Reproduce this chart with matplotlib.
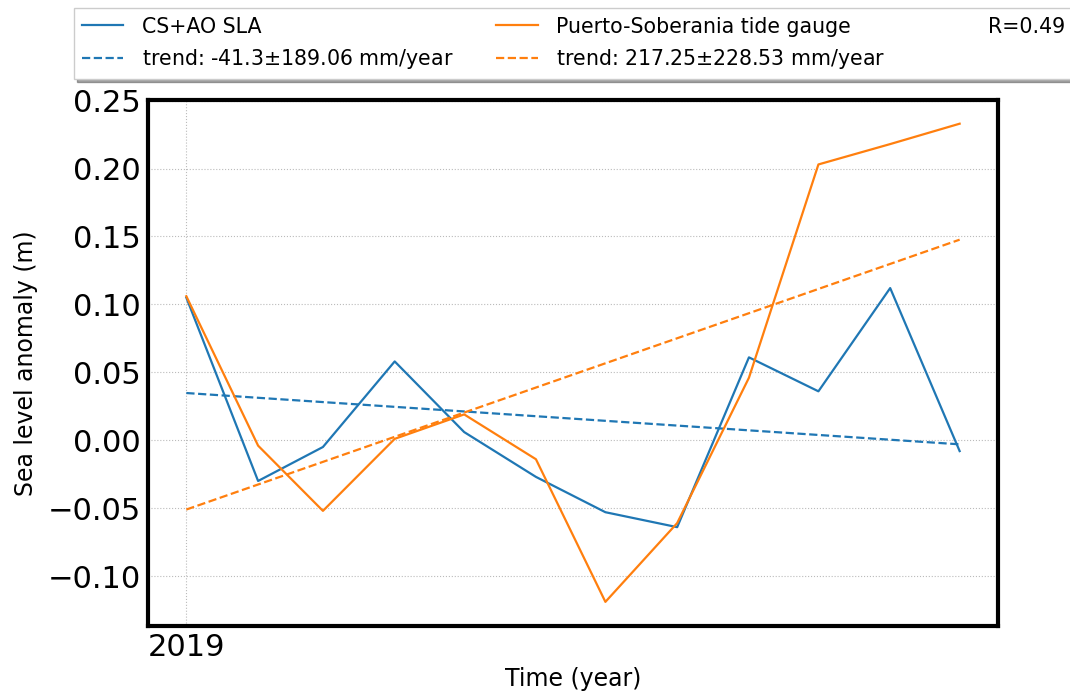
import matplotlib
matplotlib.use("Agg")
import matplotlib.pyplot as plt
import matplotlib.dates as md
import numpy as np
import pandas as pd

# Monthly sea level anomalies (m) for 2019.
MONTHS = pd.date_range("2019-01-01", periods=12, freq="MS")
SLA_CS_AO = [0.105, -0.030, -0.005, 0.058, 0.006, -0.027,
             -0.053, -0.064, 0.061, 0.036, 0.112, -0.008]
SLA_TIDE_GAUGE = [0.106, -0.004, -0.052, 0.001, 0.019, -0.014,
                  -0.119, -0.061, 0.046, 0.203, 0.218, 0.233]

# Trend rates (mm/year) and their uncertainties.
TREND_CS_AO = (-41.3, 189.06)
TREND_TIDE_GAUGE = (217.25, 228.53)
CORRELATION = 0.49

BLUE = "#1f77b4"
ORANGE = "#ff7f0e"


def trend_line(dates, values, rate_mm_year):
    # Straight line with the given slope through the mean of the series.
    t = np.array([(d - dates[0]).days for d in dates], dtype=float)
    slope = rate_mm_year / 1000.0 / 365.25
    intercept = np.mean(values) - slope * t.mean()
    return intercept + slope * t


def main():
    fig = plt.figure(figsize=(10.7, 6.93), dpi=100)
    ax = fig.add_axes([0.138, 0.097, 0.795, 0.759])

    ax.plot(MONTHS, SLA_CS_AO, color=BLUE, lw=1.6, label="CS+AO SLA")
    ax.plot(MONTHS, trend_line(MONTHS, SLA_CS_AO, TREND_CS_AO[0]), color=BLUE,
            lw=1.6, ls="--",
            label="trend: %s$\\pm$%s mm/year" % (TREND_CS_AO[0], TREND_CS_AO[1]))
    ax.plot(MONTHS, SLA_TIDE_GAUGE, color=ORANGE, lw=1.6,
            label="Puerto-Soberania tide gauge")
    ax.plot(MONTHS, trend_line(MONTHS, SLA_TIDE_GAUGE, TREND_TIDE_GAUGE[0]),
            color=ORANGE, lw=1.6, ls="--",
            label="trend: %s$\\pm$%s mm/year" % (TREND_TIDE_GAUGE[0], TREND_TIDE_GAUGE[1]))
    # Empty handle just to carry the correlation in the legend.
    ax.plot([], [], " ", label="R=%s" % CORRELATION)

    # Axis formatting.
    ax.xaxis.set_major_locator(md.YearLocator())
    ax.xaxis.set_major_formatter(md.DateFormatter("%Y"))
    ax.tick_params(axis="both", labelsize=22, length=0, pad=5)
    ax.set_xlabel("Time (year)", fontsize=17, labelpad=4)
    ax.set_ylabel("Sea level anomaly (m)", fontsize=17, labelpad=7)
    ax.grid(True, ls=":", color="#bbbbbb", lw=0.8)
    for spine in ax.spines.values():
        spine.set_linewidth(3)
        spine.set_color("black")

    fig.legend(loc="lower left", bbox_to_anchor=(0.069, 0.886), ncol=3,
               fontsize=14.8, shadow=True, fancybox=False, columnspacing=2.1,
               handlelength=2.0, handletextpad=0.9, framealpha=1,
               borderaxespad=0)

    fig.savefig("out.png", dpi=100)


if __name__ == "__main__":
    main()
